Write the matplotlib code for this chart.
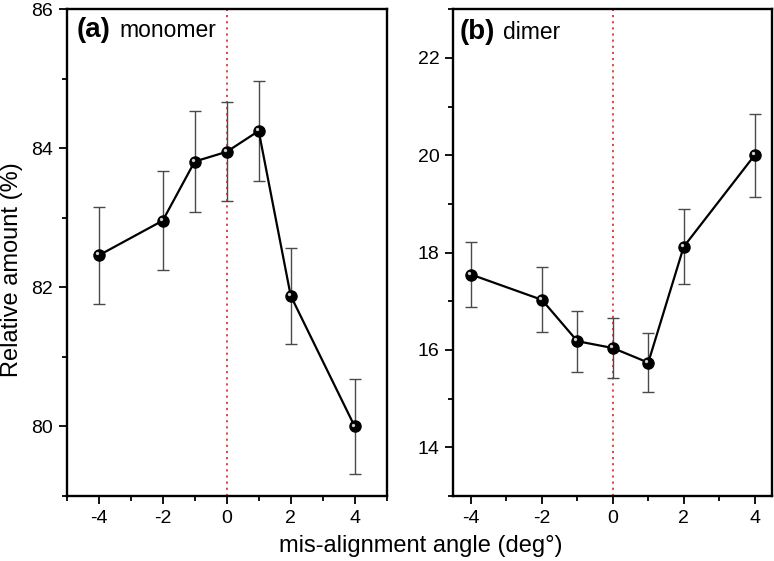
import numpy as np
import matplotlib
matplotlib.use("Agg")
import matplotlib.pyplot as plt
from matplotlib.ticker import MultipleLocator
from matplotlib.transforms import offset_copy

plt.rcParams['font.family'] = ['Liberation Sans', 'DejaVu Sans']
plt.rcParams['axes.unicode_minus'] = False

angles = [-4, -2, -1, 0, 1, 2, 4]

monomer = [82.46, 82.96, 83.81, 83.95, 84.25, 81.88, 80.00]
monomer_err = [0.70, 0.71, 0.72, 0.71, 0.72, 0.69, 0.68]

dimer = [17.55, 17.03, 16.18, 16.04, 15.74, 18.12, 20.00]
dimer_err = [0.67, 0.67, 0.63, 0.62, 0.61, 0.77, 0.85]

fig = plt.figure(figsize=(7.74, 5.61), dpi=100)
ax_a = fig.add_axes([0.0862, 0.1159, 0.4134, 0.8676])
ax_b = fig.add_axes([0.5857, 0.1159, 0.4121, 0.8676])


def draw_panel(ax, y, err, label, name, lab_pos, name_x, xlim, ylim):
    ax.axvline(0, color='#d83a3a', ls=(0, (1.2, 2.2)), lw=1.3, zorder=1)
    ax.errorbar(angles, y, yerr=err, fmt='none', ecolor='#4a4a4a', elinewidth=1.0,
                capsize=4.3, capthick=1.0, zorder=2)
    ax.plot(angles, y, color='black', lw=1.6, zorder=3)
    ax.plot(angles, y, 'o', color='black', ms=8, mec='black', zorder=4)
    # small highlight to mimic the glossy spheres
    hl = offset_copy(ax.transData, fig=ax.figure, x=-1.4, y=1.4, units='points')
    ax.plot(angles, y, 'o', color='#d0d0d0', ms=2.4, mew=0, transform=hl, zorder=5)

    ax.set_xlim(*xlim)
    ax.set_ylim(*ylim)
    ax.tick_params(which='major', direction='out', length=6, width=1.3,
                   labelsize=14, pad=4)
    ax.tick_params(which='minor', direction='out', length=3.5, width=1.3)
    for s in ax.spines.values():
        s.set_linewidth(1.7)

    ax.text(lab_pos[0], lab_pos[1], label, transform=ax.transAxes, fontsize=20,
            fontweight='bold', va='center', ha='left')
    ax.text(name_x, lab_pos[1], name, transform=ax.transAxes, fontsize=16.5,
            va='center', ha='left')


draw_panel(ax_a, monomer, monomer_err, '(a)', 'monomer', (0.030, 0.957), 0.166,
           (-5, 5), (79, 86))
draw_panel(ax_b, dimer, dimer_err, '(b)', 'dimer', (0.020, 0.953), 0.157,
           (-4.5, 4.5), (13, 23))

ax_a.set_xticks([-4, -2, 0, 2, 4])
ax_a.set_xticks([-5, -3, -1, 1, 3, 5], minor=True)
ax_a.set_yticks([80, 82, 84, 86])
ax_a.set_yticks([79, 81, 83, 85], minor=True)
ax_b.set_xticks([-4, -2, 0, 2, 4])
ax_b.set_xticks([-3, -1, 1, 3], minor=True)
ax_b.set_yticks([14, 16, 18, 20, 22])
ax_b.set_yticks([13, 15, 17, 19, 21, 23], minor=True)

fig.text(0.016, 0.52, 'Relative amount (%)', rotation=90, fontsize=17,
         va='center', ha='center')
fig.text(0.543, 0.027, 'mis-alignment angle (deg°)', fontsize=17,
         va='center', ha='center')

fig.savefig('out.png', dpi=100)
